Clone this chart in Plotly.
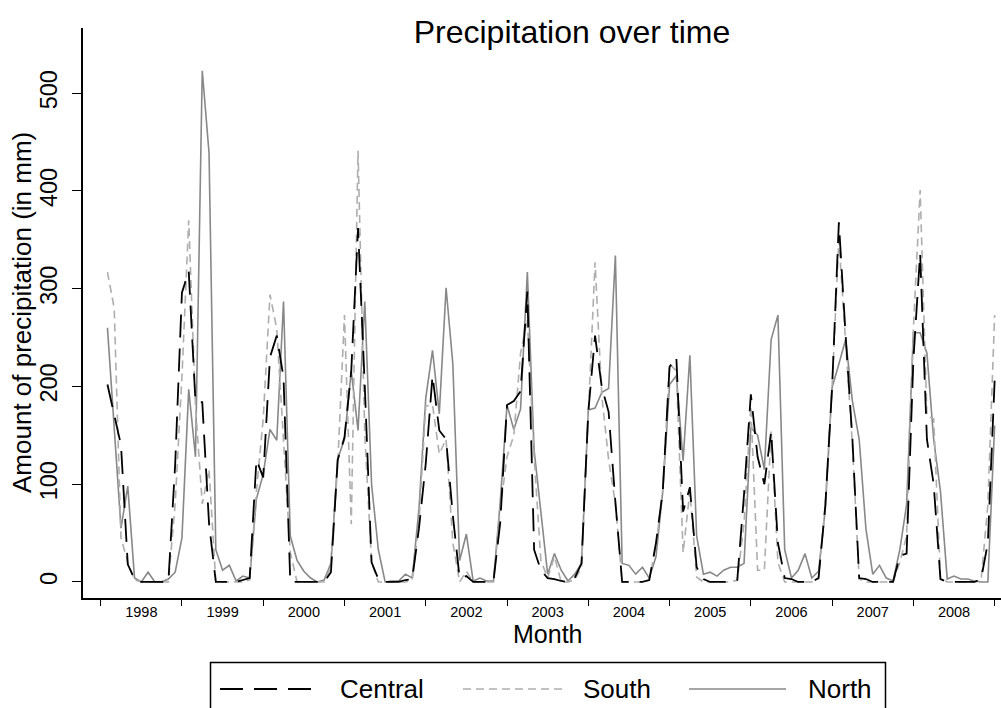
import plotly.graph_objects as go

# ---- data (monthly precipitation, mm), Jan 1998 .. Dec 2008 ----
years = list(range(1998, 2009))
series_names = ["Central", "South", "North"]

central = [
    202, 172, 140, 18, 3, 0, 0, 0, 0, 1, 120, 296,        # 1998
    318, 184, 184, 60, 0, 0, 0, 0, 2, 4, 125, 107,        # 1999
    230, 252, 209, 0, 0, 0, 0, 0, 0, 10, 125, 148,        # 2000
    216, 362, 200, 20, 3, 0, 0, 0, 2, 3, 55, 121,         # 2001
    211, 155, 146, 68, 4, 6, 0, 0, 0, 1, 61, 181,         # 2002
    185, 195, 297, 33, 12, 4, 3, 1, 0, 4, 19, 174,        # 2003
    252, 199, 174, 82, 0, 0, 0, 0, 2, 40, 93, 220,        # 2004
    230, 72, 97, 15, 3, 0, 0, 0, 0, 2, 90, 192,           # 2005
    128, 100, 154, 40, 4, 3, 0, 0, 0, 4, 78, 199,         # 2006
    368, 252, 146, 4, 3, 0, 0, 0, 0, 27, 29, 227,         # 2007
    336, 146, 100, 3, 0, 0, 0, 0, 0, 3, 40, 206,          # 2008
]

south = [
    317, 280, 45, 20, 2, 0, 0, 0, 0, 0, 80, 210,          # 1998
    370, 180, 80, 115, 0, 0, 0, 0, 0, 2, 93, 167,         # 1999
    294, 259, 150, 30, 0, 0, 0, 0, 0, 15, 120, 273,       # 2000
    59, 441, 150, 20, 0, 0, 0, 0, 0, 2, 60, 180,          # 2001
    181, 131, 146, 40, 0, 11, 0, 0, 0, 0, 75, 128,        # 2002
    150, 234, 269, 128, 22, 4, 26, 0, 0, 2, 15, 174,      # 2003
    327, 190, 125, 80, 0, 0, 0, 0, 2, 38, 95, 223,        # 2004
    216, 30, 93, 5, 0, 0, 0, 0, 0, 2, 60, 180,            # 2005
    12, 12, 155, 20, 0, 0, 0, 0, 0, 3, 80, 200,           # 2006
    350, 245, 140, 3, 0, 0, 0, 0, 0, 20, 47, 259,         # 2007
    401, 170, 167, 4, 0, 0, 0, 0, 0, 2, 79, 273,          # 2008
]

north = [
    260, 160, 55, 98, 4, 0, 10, 0, 0, 3, 10, 45,          # 1998
    197, 128, 523, 439, 33, 12, 17, 1, 6, 4, 85, 110,     # 1999
    156, 145, 287, 47, 22, 11, 4, 0, 2, 19, 126, 146,     # 2000
    216, 155, 287, 100, 33, 0, 1, 1, 8, 4, 75, 188,       # 2001
    237, 172, 301, 223, 22, 49, 1, 4, 1, 1, 82, 181,      # 2002
    156, 177, 317, 135, 72, 8, 29, 12, 1, 8, 19, 176,     # 2003
    178, 194, 198, 334, 19, 17, 8, 15, 4, 26, 93, 202,    # 2004
    211, 124, 232, 47, 8, 10, 6, 12, 15, 15, 19, 158,     # 2005
    150, 115, 248, 273, 33, 4, 12, 29, 4, 11, 75, 199,    # 2006
    223, 248, 185, 146, 54, 8, 17, 4, 1, 33, 79, 255,     # 2007
    255, 234, 146, 93, 3, 6, 3, 3, 1, 0, 0, 160,          # 2008
]

y_ticks = [0, 100, 200, 300, 400, 500]

# ---- styling ----
FONT = "Liberation Sans, Arial, sans-serif"
W, H = 1001, 708
styles = {
    "Central": dict(color="#000000", dash="23px,11px", width=1.8),
    "South": dict(color="#AEAEAE", dash="8px,5px", width=1.6),
    "North": dict(color="#888888", dash="solid", width=1.6),
}
values = {"Central": central, "South": south, "North": north}

n = len(central)
month_idx = list(range(1, n + 1))          # month number, Jan 1998 = 1
year_bounds = [12 * k for k in range(len(years) + 1)]
year_mids = [12 * k + 6 for k in range(len(years))]

fig = go.Figure()
for name in ["North", "South", "Central"]:
    st = styles[name]
    fig.add_trace(go.Scatter(
        x=month_idx, y=values[name], mode="lines", name=name,
        line=dict(color=st["color"], dash=st["dash"], width=st["width"]),
        showlegend=False,
    ))

L, R, T, B = 83, 0, 28, 110
fig.update_layout(
    width=W, height=H,
    margin=dict(l=L, r=R, t=T, b=B, pad=0),
    paper_bgcolor="white", plot_bgcolor="white",
    font=dict(family=FONT, color="black"),
    title=dict(text="Precipitation over time", font=dict(size=32, family=FONT, color="black"),
               x=572 / W, xref="container", xanchor="center",
               y=1 - 32 / H, yref="container", yanchor="middle"),
    xaxis=dict(
        range=[-2.61, 132.94], showgrid=False, zeroline=False,
        showline=True, linecolor="black", linewidth=1.5,
        tickmode="array", tickvals=year_mids, ticktext=[str(y) for y in years],
        ticks="", tickfont=dict(size=14.5, family=FONT, color="black"),
        minor=dict(tickmode="array", tickvals=year_bounds, ticks="outside",
                   ticklen=6, tickwidth=1.3, tickcolor="black", showgrid=False),
    ),
    yaxis=dict(
        range=[-16.4, 566.7], showgrid=False, zeroline=False,
        showline=True, linecolor="black", linewidth=1.5,
        tickmode="array", tickvals=y_ticks, ticktext=[str(v) for v in y_ticks],
        ticks="outside", ticklen=9, tickwidth=1.3, tickcolor="black",
        tickangle=-90, ticklabelstandoff=6,
        tickfont=dict(size=23.5, family=FONT, color="black"),
    ),
)

# axis titles
fig.add_annotation(text="Month", xref="paper", yref="paper",
                   x=(547.5 - L) / (W - L - R), y=-(634 - (H - B)) / (H - T - B),
                   xanchor="center", yanchor="middle", showarrow=False,
                   font=dict(size=25, family=FONT, color="black"))
fig.add_annotation(text="Amount of precipitation (in mm)", xref="paper", yref="paper",
                   x=-(L - 22) / (W - L - R), y=0.5, textangle=-90,
                   xanchor="center", yanchor="middle", showarrow=False,
                   font=dict(size=26, family=FONT, color="black"))

# legend (drawn in pixel positions converted to paper coords)
def px(xp):
    return (xp - L) / (W - L - R)

def py(yp):
    return ((H - B) - yp) / (H - T - B)

fig.add_shape(type="rect", xref="paper", yref="paper",
              x0=px(210.5), x1=px(885.5), y0=py(725), y1=py(662.5),
              line=dict(color="black", width=1.5), fillcolor="white", layer="above")
leg_items = [("Central", 220, 319, 338), ("South", 463, 565, 581), ("North", 689, 786, 806)]
for name, lx0, lx1, tx in leg_items:
    st = styles[name]
    fig.add_shape(type="line", xref="paper", yref="paper",
                  x0=px(lx0), x1=px(lx1), y0=py(689), y1=py(689),
                  line=dict(color=st["color"], dash=st["dash"], width=st["width"]))
    fig.add_annotation(text=name, xref="paper", yref="paper", x=px(tx), y=py(689),
                       xanchor="left", yanchor="middle", showarrow=False,
                       font=dict(size=26, family=FONT, color="black"))

fig.write_html("out.html", config={"displayModeBar": False},
               post_script="document.body.style.margin='0';document.body.style.padding='0';")
